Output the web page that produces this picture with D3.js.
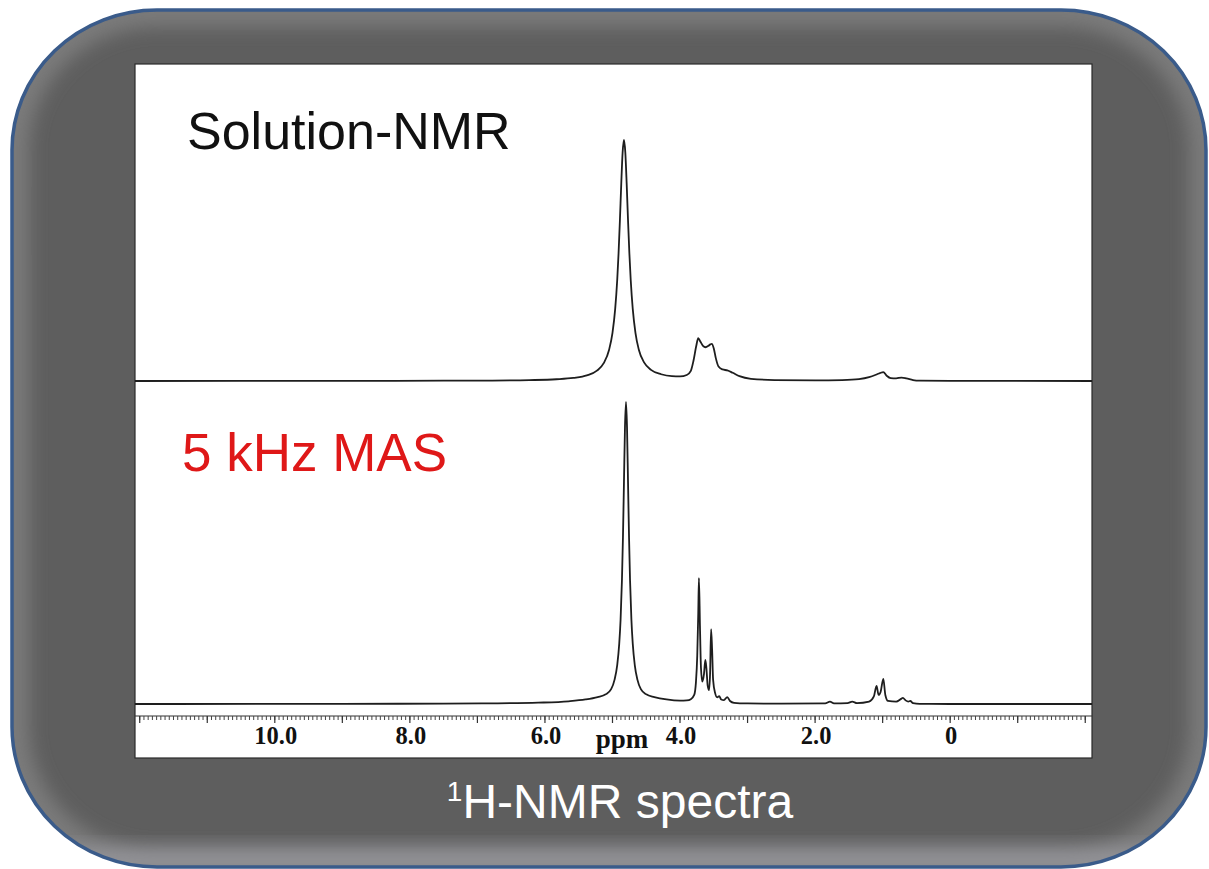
<!DOCTYPE html>
<html>
<head>
<meta charset="utf-8">
<script src="https://cdn.jsdelivr.net/npm/d3@7"></script>
<style>
  html, body { margin: 0; padding: 0; background: #ffffff; }
  svg { display: block; }
</style>
</head>
<body>
<svg id="chart" width="1209" height="869"></svg>
<script>
// ---------- DATA ----------
// Solution-NMR spectrum: chemical shift (ppm) and relative intensity (max = 100)
const solutionPpm = [12.07, 9.0, 7.5, 6.83, 6.23, 5.83, 5.58, 5.38, 5.23, 5.13, 5.05, 5.00, 4.96, 4.93, 4.91, 4.89, 4.87, 4.85, 4.83,
  4.81, 4.79, 4.77, 4.75, 4.73, 4.70, 4.66, 4.61, 4.53, 4.43, 4.28, 4.12, 4.0, 3.9, 3.84, 3.80, 3.76, 3.73, 3.70, 3.66, 3.62,
  3.58, 3.55, 3.53, 3.50, 3.47, 3.43, 3.37, 3.30, 3.22, 3.12, 2.95, 2.6, 2.0, 1.6, 1.35, 1.2, 1.1, 1.04, 0.99, 0.94, 0.88,
  0.80, 0.72, 0.65, 0.55, 0.45, 0.0, -2.1];
const solutionInt = [0, 0.05, 0.12, 0.18, 0.37, 0.72, 1.27, 2.3, 4.3, 7.4, 13, 20, 29.9, 41.9, 53, 66.7, 81.9, 94.8, 100,
  94.8, 81.9, 66.7, 53, 41.9, 29.9, 20, 13, 7.6, 4.6, 2.8, 2.0, 1.9, 2.5, 4.2, 8.5, 14.5, 17.8, 16.4, 14.6, 14.0,
  14.6, 15.2, 15.4, 13.5, 9.5, 6.0, 4.8, 4.4, 3.4, 2.0, 0.9, 0.4, 0.25, 0.4, 0.8, 1.6, 2.6, 3.3, 3.7, 2.2, 1.2,
  1.1, 1.4, 1.1, 0.4, 0.15, 0.05, 0];

// 5 kHz MAS spectrum
const masPpm = [12.07, 9.0, 7.5, 6.8, 6.1, 5.65, 5.4, 5.22, 5.10, 5.02, 4.97, 4.93, 4.90, 4.88, 4.86, 4.845, 4.83, 4.815, 4.80,
  4.785, 4.77, 4.755, 4.74, 4.72, 4.70, 4.67, 4.63, 4.58, 4.50, 4.38, 4.2, 4.0, 3.9, 3.84, 3.79, 3.765, 3.745, 3.73, 3.72,
  3.705, 3.69, 3.67, 3.645, 3.625, 3.61, 3.59, 3.57, 3.555, 3.54, 3.525, 3.51, 3.48, 3.45, 3.42, 3.39, 3.35, 3.30, 3.26,
  3.2, 3.0, 2.5, 1.85, 1.78, 1.72, 1.52, 1.45, 1.38, 1.2, 1.13, 1.09, 1.06, 1.03, 0.99, 0.96, 0.92, 0.80, 0.72, 0.70,
  0.66, 0.62, 0.59, 0.55, 0.45, 0.0, -2.1];
const masInt = [0, 0.05, 0.12, 0.2, 0.45, 0.9, 1.5, 2.3, 3.2, 4.9, 8, 12.9, 20, 28, 41, 55.2, 73.5, 91.7, 100,
  91.7, 73.5, 55.2, 41, 28, 20, 12.9, 8, 4.9, 3.2, 2.3, 1.5, 1.1, 1.2, 1.6, 3.0, 7, 16, 30, 41.7,
  26, 12, 7.4, 10, 14.6, 12, 6, 4.6, 10, 24.8, 18, 8, 3.6, 2.2, 2.6, 1.5, 1.3, 2.3, 1.0,
  0.4, 0.2, 0.1, 0.2, 0.8, 0.2, 0.3, 0.8, 0.3, 0.8, 2.5, 6, 3, 4, 8.3, 3, 1.0, 0.8, 1.8, 2.0,
  1.2, 0.8, 1.0, 0.3, 0.05, 0, 0];

// Axis tick labels
const tickValues = [10, 8, 6, 4, 2, 0];
const tickLabels = ["10.0", "8.0", "6.0", "4.0", "2.0", "0"];

const spectrumTitles = ["Solution-NMR", "5 kHz MAS"];
const footerTitle = "H-NMR spectra";

// ---------- DRAWING ----------
const svg = d3.select("#chart");

// background frame
const defs = svg.append("defs");
const blur = defs.append("filter").attr("id", "blur").attr("x", "-10%").attr("y", "-10%").attr("width", "120%").attr("height", "120%");
blur.append("feGaussianBlur").attr("stdDeviation", 9);
defs.append("clipPath").attr("id", "frameClip")
  .append("rect").attr("x", 12).attr("y", 10).attr("width", 1194).attr("height", 857).attr("rx", 145).attr("ry", 140);
const bottomGrad = defs.append("linearGradient").attr("id", "bottomGrad").attr("x1", 0).attr("y1", 0).attr("x2", 0).attr("y2", 1);
bottomGrad.append("stop").attr("offset", "0%").attr("stop-color", "#9c9ca4").attr("stop-opacity", 0);
bottomGrad.append("stop").attr("offset", "100%").attr("stop-color", "#a4a4ac").attr("stop-opacity", 1);

svg.append("rect").attr("x", 12).attr("y", 10).attr("width", 1194).attr("height", 857)
  .attr("rx", 145).attr("ry", 140).attr("fill", "#5e5e5e");
const frameG = svg.append("g").attr("clip-path", "url(#frameClip)");
frameG.append("rect").attr("x", 12).attr("y", 10).attr("width", 1194).attr("height", 857)
  .attr("rx", 145).attr("ry", 140).attr("fill", "none").attr("stroke", "#7a7a7a")
  .attr("stroke-width", 34).attr("filter", "url(#blur)");
frameG.append("rect").attr("x", 12).attr("y", 838).attr("width", 1194).attr("height", 30)
  .attr("fill", "url(#bottomGrad)").attr("filter", "url(#blur)");
svg.append("rect").attr("x", 12).attr("y", 10).attr("width", 1194).attr("height", 857)
  .attr("rx", 145).attr("ry", 140).attr("fill", "none").attr("stroke", "#3a5b8a").attr("stroke-width", 3.5);

// white plot panel
const panel = { left: 135, right: 1092, top: 64, bottom: 758 };
svg.append("rect").attr("x", panel.left).attr("y", panel.top)
  .attr("width", panel.right - panel.left).attr("height", panel.bottom - panel.top)
  .attr("fill", "#ffffff").attr("stroke", "#2a2a2a").attr("stroke-width", 1.2);

// scales
const x = d3.scaleLinear().domain([12.07, -2.1]).range([panel.left, panel.right]);
const ySol = d3.scaleLinear().domain([0, 100]).range([381, 140]);
const yMas = d3.scaleLinear().domain([0, 100]).range([704, 402]);

const plotG = svg.append("g");
const solData = solutionPpm.map((p, i) => ({ p, v: solutionInt[i] }));
const masData = masPpm.map((p, i) => ({ p, v: masInt[i] }));

const lineSol = d3.line().x(d => x(d.p)).y(d => ySol(d.v)).curve(d3.curveMonotoneX);
const lineMas = d3.line().x(d => x(d.p)).y(d => yMas(d.v)).curve(d3.curveMonotoneX);

plotG.append("path").datum(solData).attr("d", lineSol)
  .attr("fill", "none").attr("stroke", "#1e1e1e").attr("stroke-width", 1.8).attr("stroke-linejoin", "round");
plotG.append("path").datum(masData).attr("d", lineMas)
  .attr("fill", "none").attr("stroke", "#1e1e1e").attr("stroke-width", 1.8).attr("stroke-linejoin", "round");

// axis: line, minor ticks, major ticks
const axisY = 716;
const axisG = svg.append("g");
axisG.append("line").attr("x1", panel.left).attr("x2", panel.right)
  .attr("y1", axisY).attr("y2", axisY).attr("stroke", "#333").attr("stroke-width", 1.2);
const minor = d3.range(-2.0, 12.0001, 1 / 16);
axisG.selectAll("line.minor").data(minor).join("line").attr("class", "minor")
  .attr("x1", d => x(d)).attr("x2", d => x(d)).attr("y1", axisY).attr("y2", axisY + 4)
  .attr("stroke", "#444").attr("stroke-width", 1);
const major = d3.range(-2, 13, 1);
axisG.selectAll("line.major").data(major).join("line").attr("class", "major")
  .attr("x1", d => x(d)).attr("x2", d => x(d)).attr("y1", axisY).attr("y2", axisY + 7)
  .attr("stroke", "#333").attr("stroke-width", 1.2);

axisG.selectAll("text.tick").data(tickValues).join("text").attr("class", "tick")
  .attr("x", d => x(d) + 1).attr("y", 744).attr("text-anchor", "middle")
  .attr("font-family", "'Liberation Serif', 'Times New Roman', serif").attr("font-weight", "bold")
  .attr("font-size", 24.5).attr("fill", "#111").text((d, i) => tickLabels[i]);
axisG.append("text").attr("x", 622).attr("y", 748).attr("text-anchor", "middle")
  .attr("font-family", "'Liberation Serif', 'Times New Roman', serif").attr("font-weight", "bold")
  .attr("font-size", 27).attr("fill", "#111").text("ppm");

// spectrum titles
svg.append("text").attr("x", 187).attr("y", 149)
  .attr("font-family", "'Liberation Sans', Arial, sans-serif").attr("font-size", 52)
  .attr("fill", "#111").text(spectrumTitles[0]);
svg.append("text").attr("x", 182).attr("y", 471)
  .attr("font-family", "'Liberation Sans', Arial, sans-serif").attr("font-size", 53)
  .attr("fill", "#df1818").text(spectrumTitles[1]);

// footer title with superscript
const foot = svg.append("text").attr("x", 620).attr("y", 818).attr("text-anchor", "middle")
  .attr("font-family", "'Liberation Sans', Arial, sans-serif").attr("font-size", 48).attr("fill", "#ffffff");
foot.append("tspan").attr("font-size", 28).attr("dy", -17).text("1");
foot.append("tspan").attr("dy", 17).text(footerTitle);
</script>
</body>
</html>
